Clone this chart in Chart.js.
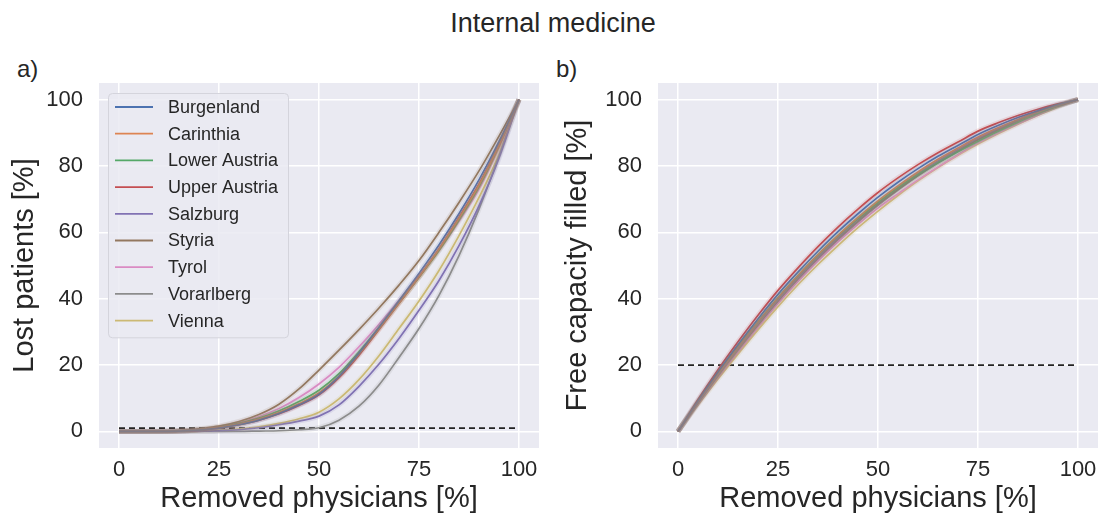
<!DOCTYPE html>
<html>
<head>
<meta charset="utf-8">
<title>Internal medicine</title>
<script src="https://cdn.jsdelivr.net/npm/chart.js@4.4.1/dist/chart.umd.min.js"></script>
<style>
    html, body { margin: 0; padding: 0; background: #ffffff; }
    body { width: 1106px; height: 520px; position: relative; overflow: hidden;
           font-family: "Liberation Sans", Arial, sans-serif; color: #262626; }
    #fig-title { position: absolute; left: 0; width: 1106px; top: 8px; text-align: center; font-size: 27px; }
    .panel-tag { position: absolute; top: 55px; font-size: 24px; }
    canvas { position: absolute; top: 0; }
</style>
</head>
<body>
<div id="fig-title">Internal medicine</div>
<div class="panel-tag" style="left:17px">a)</div>
<div class="panel-tag" style="left:556px">b)</div>
<canvas id="lost-chart" width="553" height="520" style="left:0"></canvas>
<canvas id="fill-chart" width="553" height="520" style="left:553px"></canvas>
<script>
// Share of removed physicians (x axis of both panels)
const removedPct = [0, 5, 10, 15, 20, 25, 30, 35, 40, 45, 50, 55, 60, 65, 70, 75, 80, 85, 90, 95, 100];

const regions = ['Burgenland', 'Carinthia', 'Lower Austria', 'Upper Austria', 'Salzburg',
                 'Styria', 'Tyrol', 'Vorarlberg', 'Vienna'];
const regionColors = ['#4C72B0', '#DD8452', '#55A868', '#C44E52', '#8172B3',
                      '#937860', '#DA8BC3', '#8C8C8C', '#CCB974'];

// a) lost patients [%]
const lostBurgenland   = [0, 0, 0, 0.1, 0.4, 1, 2, 3.4, 5.4, 8, 11.2, 16.6, 23.6, 31.4, 39.4, 47.6, 56.2, 65.6, 75.8, 87.3, 100];
const lostCarinthia    = [0, 0, 0, 0.1, 0.5, 1.2, 2.2, 3.7, 5.7, 8.3, 11.6, 16.6, 23.4, 30.9, 38.6, 46.6, 55, 64.3, 74.3, 86.2, 100];
const lostLowerAustria = [0, 0, 0, 0.1, 0.5, 1.2, 2.4, 4, 6.2, 9, 12.4, 17.4, 24, 31.3, 38.8, 46.4, 54.5, 63.7, 73.7, 86, 100];
const lostUpperAustria = [0, 0, 0, 0.1, 0.4, 1, 2, 3.4, 5.3, 7.8, 11, 16.2, 23, 30.7, 38.6, 46.5, 55, 64.5, 74.5, 86.5, 100];
const lostSalzburg     = [0, 0, 0, 0, 0.1, 0.2, 0.5, 1.1, 2, 3.1, 4.6, 8, 13.6, 20.3, 28, 36.5, 45.5, 56, 68, 82.3, 100];
const lostStyria       = [0, 0, 0.1, 0.3, 0.8, 1.6, 3, 5.1, 8.2, 12.8, 18.5, 24.5, 30.7, 37.2, 44.1, 51.5, 60, 69, 78.5, 89, 100];
const lostTyrol        = [0, 0, 0, 0.1, 0.5, 1.3, 2.6, 4.4, 6.9, 10.2, 14.3, 19.3, 25.5, 32.3, 39.5, 46.8, 54.5, 63.3, 73, 85.5, 100];
const lostVorarlberg   = [0, 0, 0, 0, 0, 0, 0, 0.1, 0.2, 0.5, 1.1, 3.4, 7.6, 14, 22.3, 31, 41, 53, 67, 83, 100];
const lostVienna       = [0, 0, 0, 0, 0.1, 0.3, 0.7, 1.4, 2.4, 3.8, 5.8, 9.8, 15.6, 22.8, 31, 39.3, 48.5, 59, 70.5, 83.5, 100];

// b) free capacity filled [%]
const fillBurgenland   = [0, 9.2, 17.9, 26.1, 33.9, 41.3, 48, 54.3, 60.2, 65.6, 70.6, 75.1, 79.2, 82.9, 86.2, 89.5, 92.2, 94.6, 96.6, 98.5, 100];
const fillCarinthia    = [0, 8.9, 17.3, 25.3, 33, 40.3, 47, 53.3, 59.1, 64.5, 69.5, 74, 78.2, 82, 85.4, 88.7, 91.5, 94, 96.3, 98.3, 100];
const fillLowerAustria = [0, 8.9, 17.4, 25.4, 33, 40.3, 46.9, 53.1, 58.9, 64.1, 69, 73.4, 77.4, 81, 84.3, 87.4, 90.4, 93.2, 95.8, 98.1, 100];
const fillUpperAustria = [0, 9.6, 18.6, 27, 35, 42.5, 49.3, 55.7, 61.6, 67, 72, 76.4, 80.4, 84, 87.2, 90.5, 93, 95.2, 97.1, 98.7, 100];
const fillSalzburg     = [0, 8.7, 17.1, 25, 32.6, 39.8, 46.5, 52.7, 58.5, 63.9, 68.9, 73.5, 77.7, 81.5, 85, 88.4, 91.2, 93.8, 96.1, 98.2, 100];
const fillStyria       = [0, 8.6, 16.8, 24.6, 32.1, 39.3, 46, 52.2, 58, 63.4, 68.4, 73, 77.2, 81.1, 84.6, 88, 90.9, 93.5, 95.9, 98.1, 100];
const fillTyrol        = [0, 8.3, 16.4, 24, 31.5, 38.6, 45.2, 51.4, 57.1, 62.4, 67.3, 71.6, 75.8, 79.7, 83.4, 86.9, 89.9, 92.7, 95.4, 97.9, 100];
const fillVorarlberg   = [0, 8.5, 16.6, 24.4, 31.9, 39.1, 45.7, 51.9, 57.7, 63.1, 68.1, 72.7, 77, 80.9, 84.4, 87.8, 90.7, 93.4, 95.8, 98.1, 100];
const fillVienna       = [0, 8, 15.8, 23.3, 30.6, 37.6, 44.2, 50.3, 56, 61.4, 66.4, 71.1, 75.5, 79.5, 83.2, 86.6, 89.7, 92.6, 95.3, 97.8, 100];

const lostSeries = [lostBurgenland, lostCarinthia, lostLowerAustria, lostUpperAustria, lostSalzburg,
                    lostStyria, lostTyrol, lostVorarlberg, lostVienna];
const fillSeries = [fillBurgenland, fillCarinthia, fillLowerAustria, fillUpperAustria, fillSalzburg,
                    fillStyria, fillTyrol, fillVorarlberg, fillVienna];

// Reference levels (dashed lines)
const lostThreshold = 1;
const fillThreshold = 20;

const xTicks = [0, 25, 50, 75, 100];
const yTicks = [0, 20, 40, 60, 80, 100];

const FONT = '"Liberation Sans", Arial, sans-serif';
const TEXT = '#262626';

function hexToRgba(hex, a) {
    const n = parseInt(hex.slice(1), 16);
    return `rgba(${(n >> 16) & 255}, ${(n >> 8) & 255}, ${n & 255}, ${a})`;
}

function toPoints(values) {
    return removedPct.map((x, i) => ({ x: x, y: values[i] }));
}

// Lines with a translucent band underneath, plus the dashed reference line
function buildDatasets(series, threshold) {
    const bands = series.map((values, i) => ({
        data: toPoints(values),
        borderColor: hexToRgba(regionColors[i], 0.15),
        borderWidth: 5,
        pointRadius: 0,
        cubicInterpolationMode: 'monotone'
    }));
    const lines = series.map((values, i) => ({
        label: regions[i],
        data: toPoints(values),
        borderColor: regionColors[i],
        borderWidth: 1.7,
        pointRadius: 0,
        cubicInterpolationMode: 'monotone'
    }));
    const ref = {
        data: [{ x: removedPct[0], y: threshold }, { x: removedPct[removedPct.length - 1], y: threshold }],
        borderColor: '#222222',
        borderWidth: 1.8,
        borderDash: [6, 4],
        pointRadius: 0
    };
    return bands.concat(lines, [ref]);
}

// Grey plotting area
const areaBackground = {
    id: 'areaBackground',
    beforeDraw(chart) {
        const { ctx, chartArea: a } = chart;
        ctx.save();
        ctx.fillStyle = '#EAEAF2';
        ctx.fillRect(a.left, a.top, a.right - a.left, a.bottom - a.top);
        ctx.restore();
    }
};

// Legend drawn inside the upper-left corner of the plot
const insideLegend = {
    id: 'insideLegend',
    afterDraw(chart, args, opts) {
        if (!opts.show) return;
        const ctx = chart.ctx;
        const a = chart.chartArea;
        const x0 = a.left + 9, y0 = a.top + 10;
        const w = 180, rowH = 26.7, h = rowH * regions.length + 4;
        ctx.save();
        ctx.fillStyle = 'rgba(234, 234, 242, 0.85)';
        ctx.strokeStyle = '#d4d4dc';
        ctx.lineWidth = 1;
        ctx.beginPath();
        ctx.roundRect(x0 + 0.5, y0 + 0.5, w, h, 4);
        ctx.fill();
        ctx.stroke();
        ctx.font = '18px ' + FONT;
        ctx.textBaseline = 'middle';
        regions.forEach((name, i) => {
            const cy = y0 + 14 + i * rowH;
            ctx.strokeStyle = regionColors[i];
            ctx.lineWidth = 1.8;
            ctx.beginPath();
            ctx.moveTo(x0 + 7, cy);
            ctx.lineTo(x0 + 45, cy);
            ctx.stroke();
            ctx.fillStyle = TEXT;
            ctx.fillText(name, x0 + 60, cy + 1);
        });
        ctx.restore();
    }
};

function axisOptions(title, ticks, isY, yAxisWidth) {
    return {
        type: 'linear',
        min: -5,
        max: 105,
        afterBuildTicks: (scale) => { scale.ticks = ticks.map(v => ({ value: v })); },
        afterFit: (scale) => {
            if (isY) { scale.width = yAxisWidth; } else { scale.height = 72; }
        },
        grid: { color: '#ffffff', lineWidth: 1.5, drawTicks: false },
        border: { display: false },
        ticks: {
            color: TEXT,
            padding: isY ? 16 : 9,
            font: { size: 22, family: FONT }
        },
        title: {
            display: true,
            text: title,
            color: TEXT,
            font: { size: 29, family: FONT },
            padding: isY ? { top: 8, bottom: 0 } : { top: 0, bottom: 4 }
        }
    };
}

function makeChart(canvasId, series, threshold, yTitle, yAxisWidth, rightPad, showLegend) {
    return new Chart(document.getElementById(canvasId), {
        type: 'line',
        data: { datasets: buildDatasets(series, threshold) },
        options: {
            responsive: false,
            animation: false,
            layout: { padding: { top: 83, right: rightPad, left: 0, bottom: 0 } },
            plugins: {
                legend: { display: false },
                tooltip: { enabled: false },
                insideLegend: { show: showLegend }
            },
            scales: {
                x: axisOptions('Removed physicians [%]', xTicks, false),
                y: axisOptions(yTitle, yTicks, true, yAxisWidth)
            }
        },
        plugins: [areaBackground, insideLegend]
    });
}

makeChart('lost-chart', lostSeries, lostThreshold, 'Lost patients [%]', 99, 14, true);
makeChart('fill-chart', fillSeries, fillThreshold, 'Free capacity filled [%]', 105, 8, false);
</script>
</body>
</html>
